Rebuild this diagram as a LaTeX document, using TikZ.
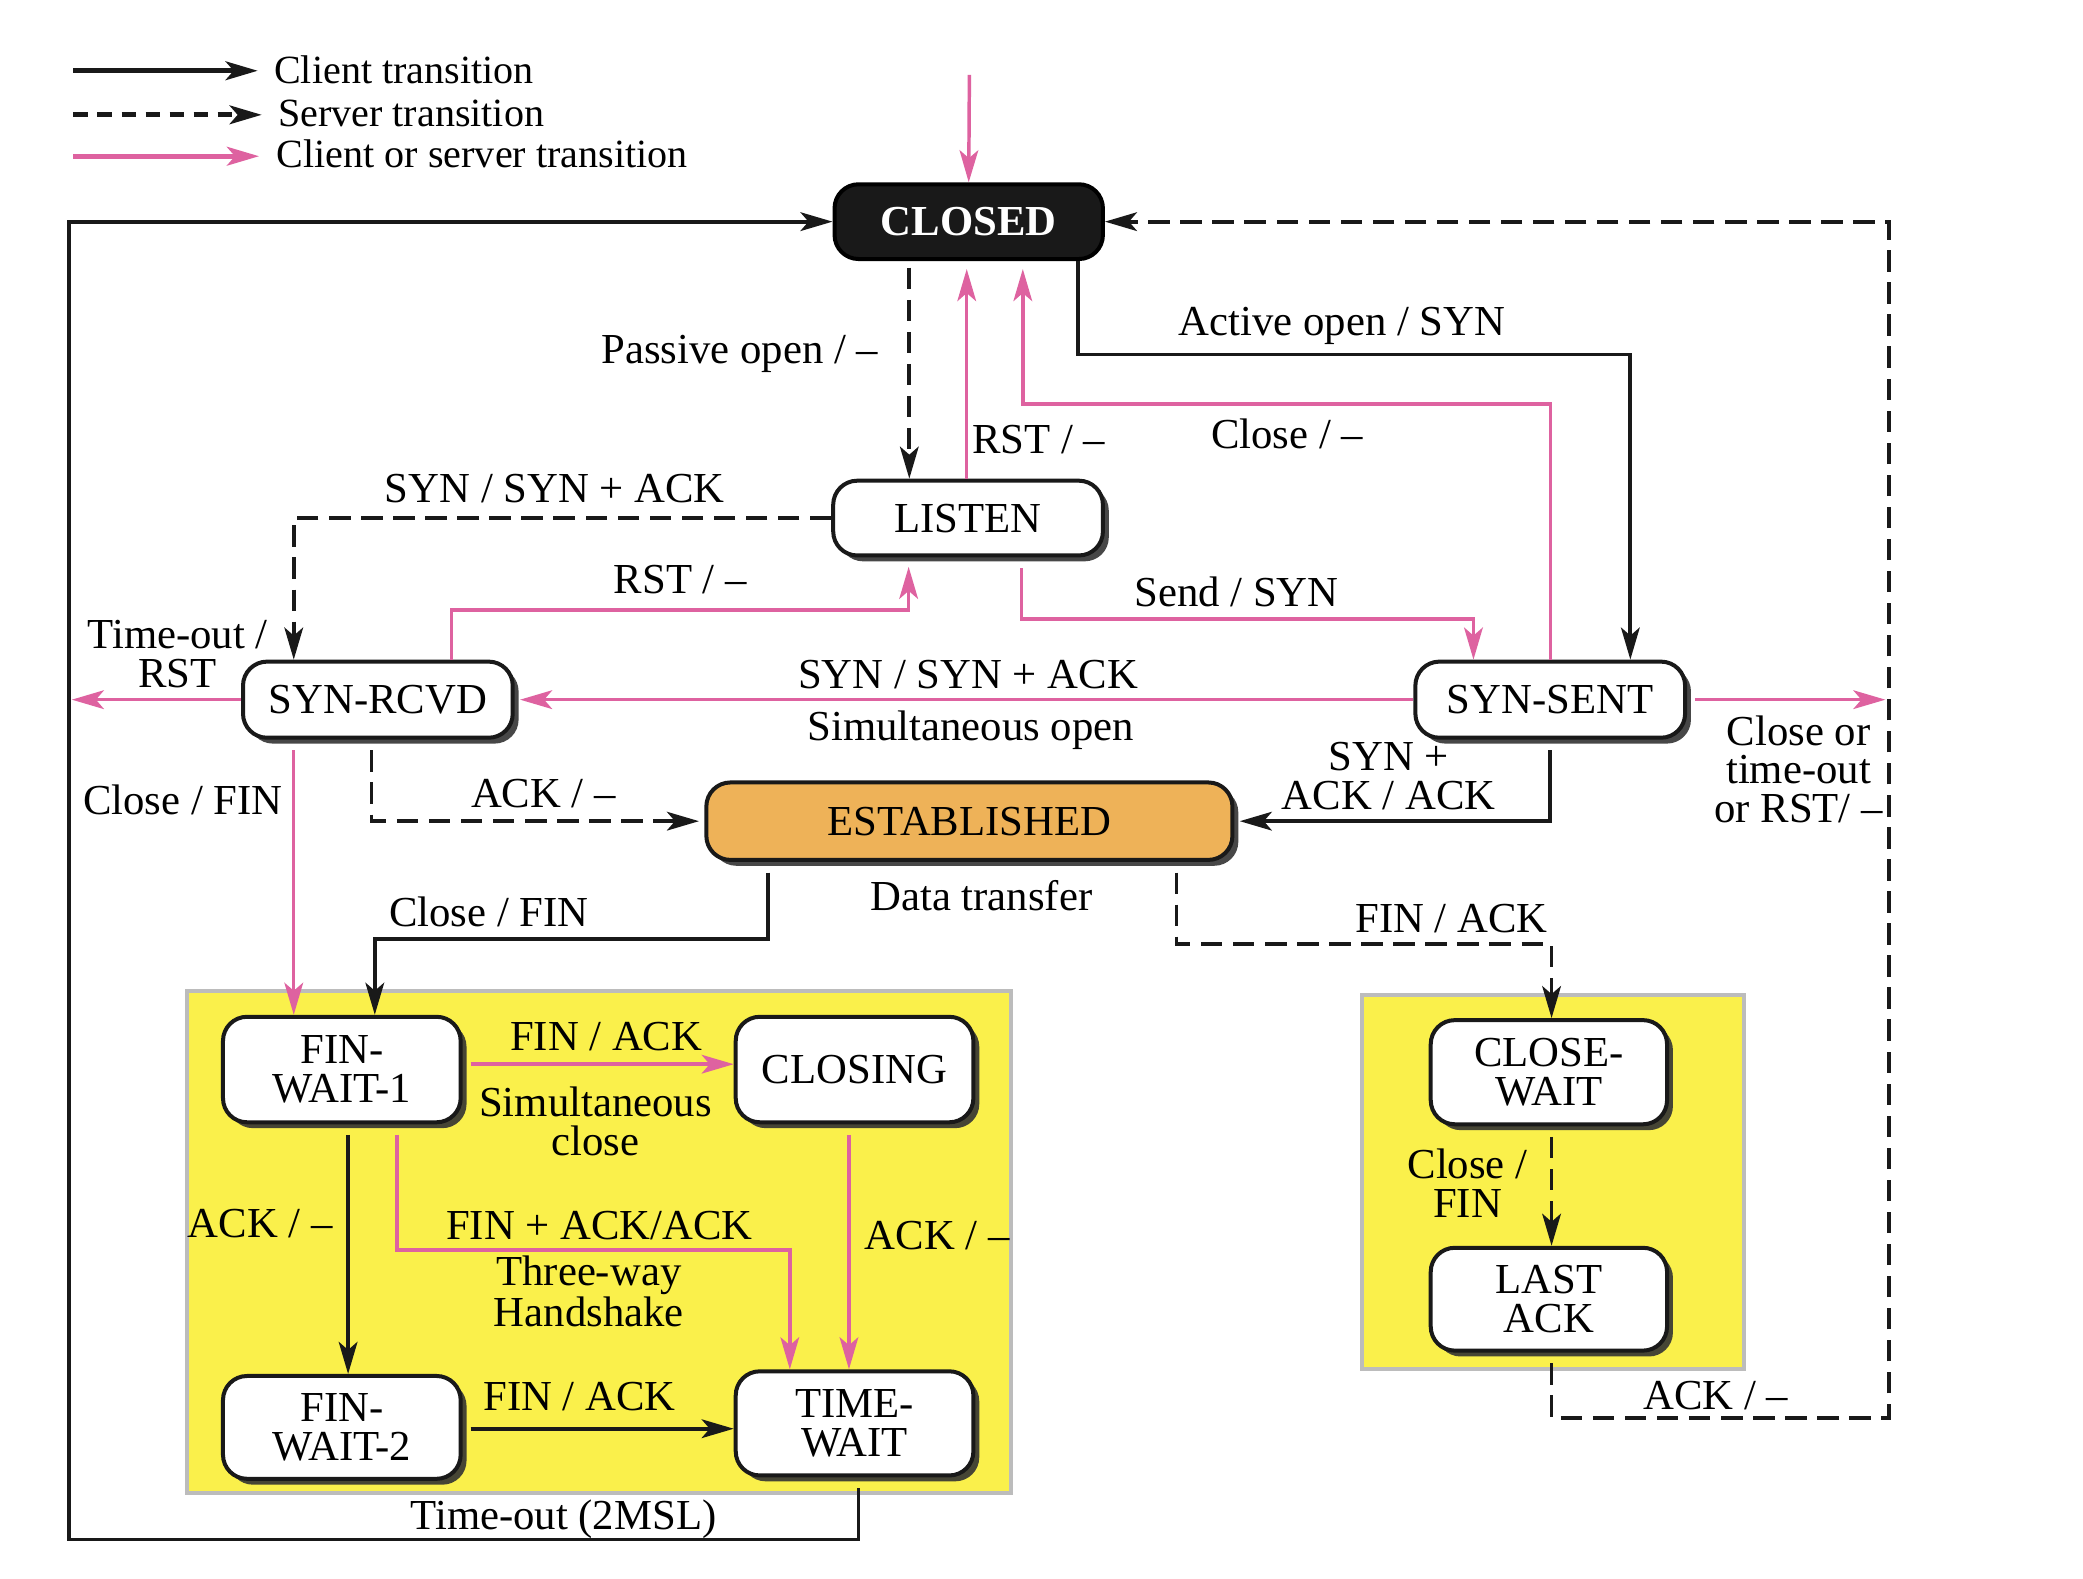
\documentclass[tikz,border=0pt]{standalone}
\usepackage{fontspec}
\setmainfont{Liberation Serif}
\usetikzlibrary{arrows.meta,shadows}
\definecolor{pk}{RGB}{222,98,160}
\definecolor{yl}{RGB}{250,240,75}
\definecolor{og}{RGB}{238,178,88}
\definecolor{gb}{RGB}{188,188,188}
\newcommand\stfont{\fontsize{16}{14.5}\selectfont}
\newcommand\lgfont{\fontsize{15}{16}\selectfont}
\begin{document}
\begin{tikzpicture}[x=0.5pt,y=-0.5pt,
  >={Stealth[length=12pt,width=7pt,inset=3pt]},
  st/.style={draw=black!90, line width=1.5pt, rounded corners=9pt, fill=white,
    inner sep=0pt, align=center, font=\stfont,
    drop shadow={shadow xshift=2.2pt, shadow yshift=-2.2pt, fill=black!80, opacity=0.9}},
  lbl/.style={font=\stfont, inner sep=0pt, align=center},
  lgt/.style={font=\lgfont, inner sep=0pt, anchor=west},
  cli/.style={line width=1.4pt, draw=black!90, ->},
  srv/.style={cli, dash pattern=on 8pt off 4pt},
  pnk/.style={line width=1.3pt, draw=pk, ->},
  fromb/.style={shorten <=4pt},
  tob/.style={shorten >=3.5pt},
  ybox/.style={fill=yl, draw=gb, line width=1.6pt}]

\fill[white] (0,0) rectangle (1560,1182);
\useasboundingbox (0,0) rectangle (1560,1182);

% legend
\coordinate (lg1a) at (55,53);  \coordinate (lg1b) at (193,53);
\coordinate (lg2a) at (55,86);  \coordinate (lg2b) at (196,86);
\coordinate (lg3a) at (55,117); \coordinate (lg3b) at (194,117);
\draw[cli, line width=1.8pt] (lg1a) -- (lg1b);
\draw[cli, line width=1.8pt, dash pattern=on 5.5pt off 3.5pt] (lg2a) -- (lg2b);
\draw[pnk, line width=1.8pt] (lg3a) -- (lg3b);
\node[lgt] (lt1) at (205,52) {Client transition};
\node[lgt] (lt2) at (208,85) {Server transition};
\node[lgt] (lt3) at (207,115) {Client or server transition};

% yellow boxes
\draw[ybox] (140,742) rectangle (757,1118);
\draw[ybox] (1020,745) rectangle (1306,1025);

% states
\node[draw=black, fill=black!90, line width=1.5pt, rounded corners=9pt, inner sep=0pt,
  minimum width=100.5pt, minimum height=28pt, text=white,
  font=\fontsize{16}{16}\selectfont\bfseries] (closed) at (725.5,166) {CLOSED};
\node[st, minimum width=101pt, minimum height=28pt] (listen) at (725,388) {LISTEN};
\node[st, minimum width=101pt, minimum height=28.5pt] (synrcvd) at (283,524) {SYN-RCVD};
\node[st, minimum width=101pt, minimum height=28.5pt] (synsent) at (1161,524) {SYN-SENT};
\node[st, fill=og, minimum width=197pt, minimum height=29pt] (estab) at (726,615) {ESTABLISHED};
\node[st, minimum width=89pt, minimum height=39.5pt] (fw1) at (256,801) {FIN-\\WAIT-1};
\node[st, minimum width=89pt, minimum height=39.5pt] (closing) at (640,801) {CLOSING};
\node[st, minimum width=89pt, minimum height=38.5pt] (fw2) at (256,1069) {FIN-\\WAIT-2};
\node[st, minimum width=89pt, minimum height=39pt] (timewait) at (640,1066) {TIME-\\WAIT};
\node[st, minimum width=88.5pt, minimum height=39pt] (closewait) at (1160,803) {CLOSE-\\WAIT};
\node[st, minimum width=88.5pt, minimum height=38.5pt] (lastack) at (1160,973) {LAST\\ACK};

% coordinates
\coordinate (init) at (726,56);
\coordinate (xtw) at (643,0);
\coordinate (bl) at (51.5,1153);
\coordinate (xla) at (1162,0);
\coordinate (br) at (1414.5,1062);
\coordinate (xpo) at (681,0);
\coordinate (xrs) at (724,0);
\coordinate (cl1) at (766,302.5);
\coordinate (ao1) at (807.5,265.5);
\coordinate (ao2) at (1221,265.5);
\coordinate (xsr) at (220,0);
\coordinate (r1) at (338,457);
\coordinate (r2) at (680.5,457);
\coordinate (s1) at (765,463.5);
\coordinate (s2) at (1103.5,463.5);
\coordinate (tor) at (53.8,524);
\coordinate (cor) at (1412,524);
\coordinate (a1) at (278.3,0);
\coordinate (e1) at (575.4,703.2);
\coordinate (e2) at (280.7,703.2);
\coordinate (f1) at (881,707);
\coordinate (f2) at (1162,707);
\coordinate (yf) at (0,797);
\coordinate (xa) at (260.7,0);
\coordinate (t1) at (297.4,936);
\coordinate (t2) at (591.5,936);
\coordinate (xc) at (635.8,0);
\coordinate (yb) at (0,1070);

% connectors
\draw[pnk] (init) -- (closed.north);
\draw[cli, fromb] (timewait.south -| xtw) |- (bl) |- (closed.west);
\draw[srv, fromb] (lastack.south -| xla) |- (br) |- (closed.east);
\draw[srv, shorten <=2.5pt] (closed.south -| xpo) -- (listen.north -| xpo);
\draw[pnk, shorten >=3pt] (listen.north -| xrs) -- (closed.south -| xrs);
\draw[pnk, shorten >=3pt] (synsent.north) |- (cl1) -- (closed.south -| cl1);
\draw[cli] (closed.south -| ao1) -- (ao1) -- (ao2) -- (synsent.north -| ao2);
\draw[srv] (listen.west) -| (synrcvd.north -| xsr);
\draw[pnk, tob] (synrcvd.north -| r1) -- (r1) -- (r2) -- (listen.south -| r2);
\draw[pnk, fromb] (listen.south -| s1) -- (s1) -- (s2) -- (synsent.north -| s2);
\draw[pnk] (synrcvd.west) -- (tor);
\draw[pnk, shorten >=2pt] (synsent.west) -- (synrcvd.east);
\draw[pnk, shorten <=3pt] (synsent.east) -- (cor);
\draw[srv, fromb, shorten >=2pt] (synrcvd.south -| a1) |- (estab.west);
\draw[cli, fromb, shorten >=2pt] (synsent.south) |- (estab.east);
\draw[pnk, fromb] (synrcvd.south -| xsr) -- (fw1.north -| xsr);
\draw[cli, fromb] (estab.south -| e1) -- (e1) -- (e2) -- (fw1.north -| e2);
\draw[srv, fromb] (estab.south -| f1) -- (f1) -- (f2) -- (closewait.north -| f2);
\draw[srv, fromb] (closewait.south -| f2) -- (lastack.north -| f2);
\draw[pnk, shorten <=3pt] (fw1.east |- yf) -- (closing.west |- yf);
\draw[cli, fromb] (fw1.south -| xa) -- (fw2.north -| xa);
\draw[pnk, fromb] (fw1.south -| t1) -- (t1) -- (t2) -- (timewait.north -| t2);
\draw[pnk, fromb] (closing.south -| xc) -- (timewait.north -| xc);
\draw[cli, shorten <=3pt] (fw2.east |- yb) -- (timewait.west |- yb);

% labels
\node[lbl, anchor=east] (lpo) at (658,265) {Passive open / –};
\node[lbl] (lrst1) at (778,329) {RST / –};
\node[lbl] (lao) at (1005,244) {Active open / SYN};
\node[lbl] (lcl) at (964,325) {Close / –};
\node[lbl] (lss1) at (415.5,366) {SYN / SYN + ACK};
\node[lbl] (lrst2) at (509.5,434) {RST / –};
\node[lbl] (lsend) at (926,443) {Send / SYN};
\node[lbl] (lto) at (133,490) {Time-out /\\RST};
\node[lbl] (lss2) at (725,505) {SYN / SYN + ACK};
\node[lbl] (lsim) at (727,547) {Simultaneous open};
\node[lbl] (lcor) at (1347,576) {Close or\\time-out\\or RST/ –};
\node[lbl] (lack1) at (407,594) {ACK / –};
\node[lbl] (lsa) at (1040,581) {SYN +\\ACK / ACK};
\node[lbl] (lcf1) at (137,599) {Close / FIN};
\node[lbl] (ldt) at (735,671) {Data transfer};
\node[lbl] (lcf2) at (366,683) {Close / FIN};
\node[lbl] (lfa1) at (1087,688) {FIN / ACK};
\node[lbl] (lfa2) at (454,776) {FIN / ACK};
\node[lbl] (lsc) at (446,840) {Simultaneous\\close};
\node[lbl] (lack2) at (195,916) {ACK / –};
\node[lbl] (lfaa) at (449,918) {FIN + ACK/ACK};
\node[lbl] (l3w) at (441,967) {Three-way\\Handshake};
\node[lbl] (lack3) at (702,925) {ACK / –};
\node[lbl] (lfa3) at (434,1046) {FIN / ACK};
\node[lbl] (ltmo) at (422,1138) {Time-out (2MSL)};
\node[lbl] (lcf3) at (1099,886) {Close /\\FIN};
\node[lbl] (lack4) at (1285,1045) {ACK / –};
\end{tikzpicture}
\end{document}
